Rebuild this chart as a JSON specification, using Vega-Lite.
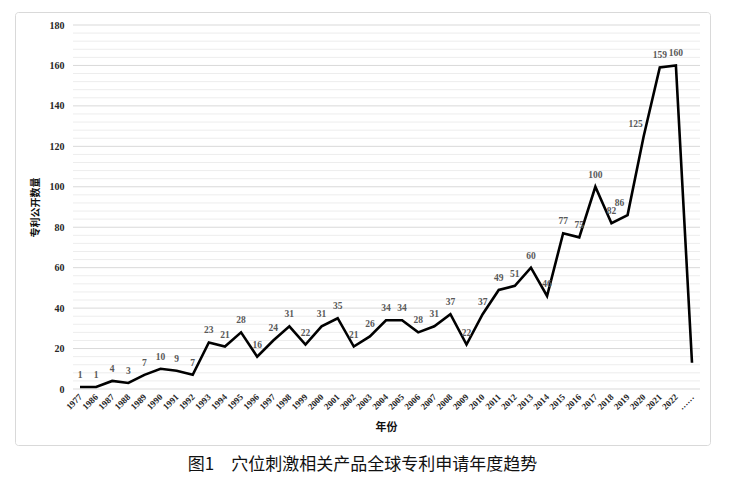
{
  "$schema": "https://vega.github.io/schema/vega-lite/v6.json",
  "width": 695,
  "height": 433,
  "autosize": "none",
  "padding": {"left": 15, "top": 12, "right": 22, "bottom": 47},
  "config": {
    "view": {"stroke": "#d9d9d9", "strokeWidth": 1, "cornerRadius": 3}
  },
  "title": {
    "text": "图1　穴位刺激相关产品全球专利申请年度趋势",
    "orient": "bottom",
    "anchor": "middle",
    "frame": "group",
    "font": "Noto Sans CJK SC",
    "fontSize": 17,
    "fontWeight": "normal",
    "color": "#111111",
    "offset": 12
  },
  "datasets": {
    "patents": [
      {"year": "1977", "count": 1, "label": "1"},
      {"year": "1986", "count": 1, "label": "1"},
      {"year": "1987", "count": 4, "label": "4"},
      {"year": "1988", "count": 3, "label": "3"},
      {"year": "1989", "count": 7, "label": "7"},
      {"year": "1990", "count": 10, "label": "10"},
      {"year": "1991", "count": 9, "label": "9"},
      {"year": "1992", "count": 7, "label": "7"},
      {"year": "1993", "count": 23, "label": "23"},
      {"year": "1994", "count": 21, "label": "21"},
      {"year": "1995", "count": 28, "label": "28"},
      {"year": "1996", "count": 16, "label": "16"},
      {"year": "1997", "count": 24, "label": "24"},
      {"year": "1998", "count": 31, "label": "31"},
      {"year": "1999", "count": 22, "label": "22"},
      {"year": "2000", "count": 31, "label": "31"},
      {"year": "2001", "count": 35, "label": "35"},
      {"year": "2002", "count": 21, "label": "21"},
      {"year": "2003", "count": 26, "label": "26"},
      {"year": "2004", "count": 34, "label": "34"},
      {"year": "2005", "count": 34, "label": "34"},
      {"year": "2006", "count": 28, "label": "28"},
      {"year": "2007", "count": 31, "label": "31"},
      {"year": "2008", "count": 37, "label": "37"},
      {"year": "2009", "count": 22, "label": "22"},
      {"year": "2010", "count": 37, "label": "37"},
      {"year": "2011", "count": 49, "label": "49"},
      {"year": "2012", "count": 51, "label": "51"},
      {"year": "2013", "count": 60, "label": "60"},
      {"year": "2014", "count": 46, "label": "46"},
      {"year": "2015", "count": 77, "label": "77"},
      {"year": "2016", "count": 75, "label": "75"},
      {"year": "2017", "count": 100, "label": "100"},
      {"year": "2018", "count": 82, "label": "82"},
      {"year": "2019", "count": 86, "label": "86"},
      {"year": "2020", "count": 125, "label": "125"},
      {"year": "2021", "count": 159, "label": "159"},
      {"year": "2022", "count": 160, "label": "160"},
      {"year": "……", "count": 13, "label": ""}
    ],
    "grid": [
      {"v": 0, "major": true}, {"v": 4, "major": false}, {"v": 8, "major": false}, {"v": 12, "major": false}, {"v": 16, "major": false},
      {"v": 20, "major": true}, {"v": 24, "major": false}, {"v": 28, "major": false}, {"v": 32, "major": false}, {"v": 36, "major": false},
      {"v": 40, "major": true}, {"v": 44, "major": false}, {"v": 48, "major": false}, {"v": 52, "major": false}, {"v": 56, "major": false},
      {"v": 60, "major": true}, {"v": 64, "major": false}, {"v": 68, "major": false}, {"v": 72, "major": false}, {"v": 76, "major": false},
      {"v": 80, "major": true}, {"v": 84, "major": false}, {"v": 88, "major": false}, {"v": 92, "major": false}, {"v": 96, "major": false},
      {"v": 100, "major": true}, {"v": 104, "major": false}, {"v": 108, "major": false}, {"v": 112, "major": false}, {"v": 116, "major": false},
      {"v": 120, "major": true}, {"v": 124, "major": false}, {"v": 128, "major": false}, {"v": 132, "major": false}, {"v": 136, "major": false},
      {"v": 140, "major": true}, {"v": 144, "major": false}, {"v": 148, "major": false}, {"v": 152, "major": false}, {"v": 156, "major": false},
      {"v": 160, "major": true}, {"v": 164, "major": false}, {"v": 168, "major": false}, {"v": 172, "major": false}, {"v": 176, "major": false},
      {"v": 180, "major": true}
    ]
  },
  "layer": [
    {
      "data": {"name": "grid"},
      "mark": {"type": "rule", "strokeWidth": 1, "xOffset": -7, "x2Offset": 8},
      "encoding": {
        "y": {"field": "v", "type": "quantitative"},
        "x": {"datum": "1977", "type": "ordinal"},
        "x2": {"datum": "……"},
        "color": {
          "field": "major",
          "type": "nominal",
          "scale": {"domain": [true, false], "range": ["#d9d9d9", "#ededed"]},
          "legend": null
        }
      }
    },
    {
      "data": {"name": "patents"},
      "mark": {"type": "line", "color": "#000000", "strokeWidth": 2.6, "strokeJoin": "miter"},
      "encoding": {
        "x": {
          "field": "year",
          "type": "ordinal",
          "sort": "ascending",
          "scale": {"type": "point", "range": [65, 677], "padding": 0},
          "axis": {
            "offset": -56,
            "title": "年份",
            "titleFont": "Noto Sans CJK SC",
            "titleFontSize": 11,
            "titleFontWeight": "bold",
            "titleColor": "#111111",
            "titlePadding": 10,
            "labelFont": "Liberation Serif",
            "labelFontSize": 9,
            "labelFontWeight": "bold",
            "labelColor": "#262626",
            "labelAngle": -45,
            "labelPadding": 6,
            "ticks": false,
            "domain": false,
            "grid": false
          }
        },
        "y": {
          "field": "count",
          "type": "quantitative",
          "scale": {"domain": [0, 180], "range": [377, 13], "nice": false, "zero": true},
          "axis": {
            "offset": -57,
            "values": [0, 20, 40, 60, 80, 100, 120, 140, 160, 180],
            "title": "专利公开数量",
            "titleFont": "Noto Sans CJK SC",
            "titleFontSize": 10,
            "titleFontWeight": "bold",
            "titleColor": "#111111",
            "titlePadding": 9,
            "labelFont": "Liberation Serif",
            "labelFontSize": 10,
            "labelFontWeight": "bold",
            "labelColor": "#262626",
            "labelPadding": 8,
            "ticks": false,
            "domain": false,
            "grid": false
          }
        }
      }
    },
    {
      "data": {"name": "patents"},
      "transform": [{"filter": "datum.year !== '2020' && datum.year !== '2019'"}],
      "mark": {
        "type": "text",
        "dy": -12,
        "font": "Liberation Serif",
        "fontSize": 9.5,
        "fontWeight": "bold",
        "color": "#595959"
      },
      "encoding": {
        "x": {"field": "year", "type": "ordinal", "sort": "ascending"},
        "y": {"field": "count", "type": "quantitative"},
        "text": {"field": "label"}
      }
    },
    {
      "data": {"name": "patents"},
      "transform": [{"filter": "datum.year === '2020' || datum.year === '2019'"}],
      "mark": {
        "type": "text",
        "dy": -12,
        "dx": -8,
        "font": "Liberation Serif",
        "fontSize": 9.5,
        "fontWeight": "bold",
        "color": "#595959"
      },
      "encoding": {
        "x": {"field": "year", "type": "ordinal", "sort": "ascending"},
        "y": {"field": "count", "type": "quantitative"},
        "text": {"field": "label"}
      }
    }
  ]
}
